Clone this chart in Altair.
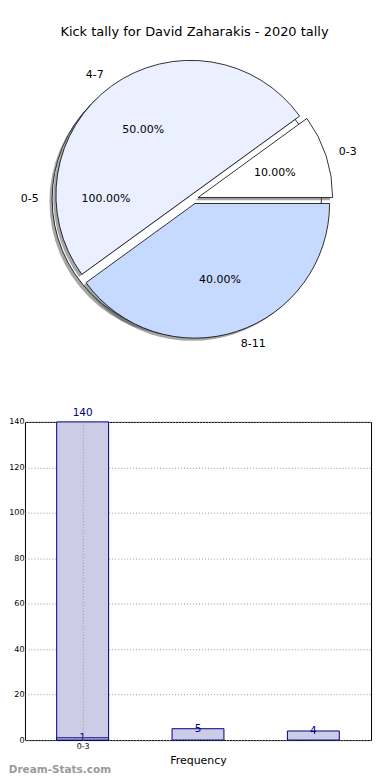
import json
import math
import altair as alt
import pandas as pd

# ---------------- data ----------------
TITLE = "Kick tally for David Zaharakis - 2020 tally"

PIE_LABELS = ["0-3", "4-7", "8-11"]
PIE_VALUES = [1, 5, 4]
PIE_COLORS = ["#ffffff", "#eaf0ff", "#c6d9ff"]

BACK_LABELS = ["0-5"]
BACK_VALUES = [140]
BACK_COLORS = ["#ffffff"]

BAR_A_VALUES = [140]
BAR_B_VALUES = [1, 5, 4]
X_TICK_LABELS = ["0-3"]
X_TITLE = "Frequency"
WATERMARK = "Dream-Stats.com"

# ---------------- style / layout ----------------
FONT = "DejaVu Sans"
R = 135.0            # pie radius in px
PIE_W, PIE_H = 357, 380
CX_PX, CY_PX = 169.0, 189.5   # pie centre inside the pie panel
BAR_W, BAR_H = 347, 319
SPACING = 33
EXPLODE_MAIN = 0.035
EXPLODE_BACK = 0.05
SHADOW = 0.02
NAVY = "#000080"


def pie_table(labels, values, explode):
    total = float(sum(values))
    rows, cum = [], 0.0
    for lab, v in zip(labels, values):
        f0 = cum / total
        cum += v
        f1 = cum / total
        mid = math.pi * (f0 + f1)
        cx, cy = explode * math.cos(mid), explode * math.sin(mid)
        rows.append(dict(
            label=lab, f0=f0, f1=f1, cx=cx, cy=cy,
            sx=cx - SHADOW, sy=cy - SHADOW,
            lx=cx + 1.1 * math.cos(mid), ly=cy + 1.1 * math.sin(mid),
            px=cx + 0.6 * math.cos(mid), py=cy + 0.6 * math.sin(mid),
            pct=f"{100.0 * v / total:.2f}%",
        ))
    return pd.DataFrame(rows)


main_df = pie_table(PIE_LABELS, PIE_VALUES, EXPLODE_MAIN)
back_df = pie_table(BACK_LABELS, BACK_VALUES, EXPLODE_BACK)
title_df = pd.DataFrame({"t": [TITLE], "x": [1.0 / R], "y": [(CY_PX - 22) / R]})

xs = alt.Scale(domain=[-CX_PX / R, (PIE_W - CX_PX) / R], nice=False, zero=False)
ys = alt.Scale(domain=[-(PIE_H - CY_PX) / R, CY_PX / R], nice=False, zero=False)
ts = alt.Scale(domain=[0, 1], range=[2.5 * math.pi, 0.5 * math.pi])
cs = alt.Scale(domain=PIE_LABELS + BACK_LABELS, range=PIE_COLORS + BACK_COLORS)


def arcs(df, shadow=False):
    xf, yf = ("sx", "sy") if shadow else ("cx", "cy")
    if shadow:
        m = alt.Chart(df).mark_arc(fill="#4d4d4d", opacity=0.5, radius=R)
        enc = {}
    else:
        m = alt.Chart(df).mark_arc(stroke="black", strokeWidth=0.8, radius=R)
        enc = {"color": alt.Color("label:N", scale=cs, legend=None)}
    return m.encode(
        x=alt.X(f"{xf}:Q", scale=xs, axis=None),
        y=alt.Y(f"{yf}:Q", scale=ys, axis=None),
        theta=alt.Theta("f1:Q", scale=ts, stack=False),
        theta2="f0:Q",
        **enc,
    )


def texts(df, xf, yf, tf, align, filt=None, size=11):
    c = alt.Chart(df)
    if filt:
        c = c.transform_filter(filt)
    return c.mark_text(align=align, baseline="middle", font=FONT, fontSize=size,
                       color="black").encode(
        x=alt.X(f"{xf}:Q", scale=xs, axis=None),
        y=alt.Y(f"{yf}:Q", scale=ys, axis=None),
        text=f"{tf}:N",
    )


all_df = pd.concat([back_df, main_df], ignore_index=True)

pie = alt.layer(
    arcs(back_df, shadow=True),
    arcs(back_df),
    arcs(main_df, shadow=True),
    arcs(main_df),
    texts(all_df, "lx", "ly", "label", "left", "datum.lx > 0"),
    texts(all_df, "lx", "ly", "label", "right", "datum.lx <= 0"),
    texts(all_df, "px", "py", "pct", "center"),
    texts(title_df, "x", "y", "t", "center", size=13),
).properties(width=PIE_W, height=PIE_H,
             view=alt.ViewBackground(stroke="transparent"))

# ---------------- bar chart ----------------
HALF = 0.225
bar_a = pd.DataFrame({"pos": list(range(len(BAR_A_VALUES))), "v": BAR_A_VALUES})
bar_b = pd.DataFrame({"pos": list(range(len(BAR_B_VALUES))), "v": BAR_B_VALUES})

bx = alt.Scale(domain=[-0.5, 2.5], nice=False, zero=False)
by = alt.Scale(domain=[0, 140], nice=False)

x_axis = alt.Axis(values=list(range(len(X_TICK_LABELS))),
                  labelExpr=f"{json.dumps(X_TICK_LABELS)}[datum.value]",
                  title=X_TITLE, titleFont=FONT, titleFontSize=11,
                  titleFontWeight="normal", titlePadding=4, titleColor="black",
                  labelFont=FONT, labelFontSize=8, labelPadding=2,
                  labelColor="black", zindex=1,
                  ticks=False, domain=False, grid=True, gridDash=[1, 2],
                  gridColor="#999999")
y_axis = alt.Axis(values=list(range(0, 141, 20)), title=None,
                  labelFont=FONT, labelFontSize=8, labelPadding=1,
                  labelColor="black",
                  ticks=False, domain=False, grid=True, gridDash=[1, 2],
                  gridColor="#999999")


def bars(df):
    base = alt.Chart(df).transform_calculate(
        x0=f"datum.pos - {HALF}", x1=f"datum.pos + {HALF}")
    return base.mark_bar(fill="#ccccE6", stroke=NAVY, strokeWidth=1).encode(
        x=alt.X("x0:Q", scale=bx, axis=x_axis),
        x2="x1:Q",
        y=alt.Y("v:Q", scale=by, axis=y_axis),
        y2=alt.datum(0),
    )


def bar_labels(df, dy):
    return alt.Chart(df).mark_text(font=FONT, fontSize=10.5, color=NAVY,
                                   baseline="middle", dy=dy).encode(
        x=alt.X("pos:Q", scale=bx, axis=x_axis),
        y=alt.Y("v:Q", scale=by, axis=y_axis),
        text=alt.Text("v:Q"),
    )


bar = alt.layer(
    bars(bar_a),
    bars(bar_b),
    bar_labels(bar_a, -9),
    bar_labels(bar_b, 0),
).properties(
    width=BAR_W, height=BAR_H,
    view=alt.ViewBackground(stroke="black", strokeWidth=1),
    title=alt.TitleParams(WATERMARK, orient="bottom", anchor="start",
                          font=FONT, fontSize=10.5, fontWeight="bold",
                          color="#9a9a9a", offset=0),
)

chart = alt.vconcat(pie, bar, spacing=SPACING, bounds="flush").properties(
    padding=0
)

chart.save("out.html", embed_options={"renderer": "svg", "actions": False})
